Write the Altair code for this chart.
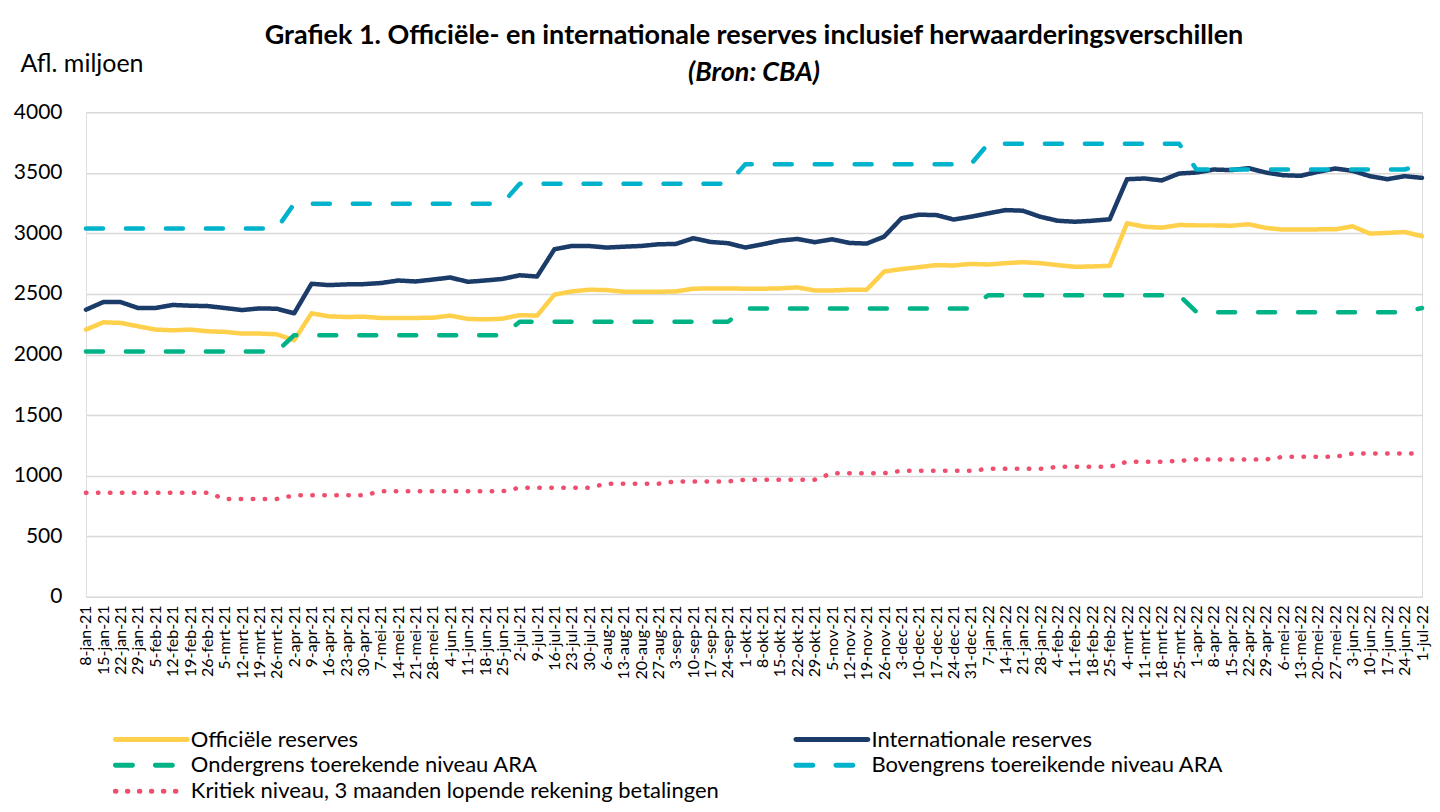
import altair as alt
import pandas as pd

dates = [
    "8-jan-21", "15-jan-21", "22-jan-21", "29-jan-21", "5-feb-21", "12-feb-21", "19-feb-21", "26-feb-21",
    "5-mrt-21", "12-mrt-21", "19-mrt-21", "26-mrt-21", "2-apr-21", "9-apr-21", "16-apr-21", "23-apr-21",
    "30-apr-21", "7-mei-21", "14-mei-21", "21-mei-21", "28-mei-21", "4-jun-21", "11-jun-21", "18-jun-21",
    "25-jun-21", "2-jul-21", "9-jul-21", "16-jul-21", "23-jul-21", "30-jul-21", "6-aug-21", "13-aug-21",
    "20-aug-21", "27-aug-21", "3-sep-21", "10-sep-21", "17-sep-21", "24-sep-21", "1-okt-21", "8-okt-21",
    "15-okt-21", "22-okt-21", "29-okt-21", "5-nov-21", "12-nov-21", "19-nov-21", "26-nov-21", "3-dec-21",
    "10-dec-21", "17-dec-21", "24-dec-21", "31-dec-21", "7-jan-22", "14-jan-22", "21-jan-22", "28-jan-22",
    "4-feb-22", "11-feb-22", "18-feb-22", "25-feb-22", "4-mrt-22", "11-mrt-22", "18-mrt-22", "25-mrt-22",
    "1-apr-22", "8-apr-22", "15-apr-22", "22-apr-22", "29-apr-22", "6-mei-22", "13-mei-22", "20-mei-22",
    "27-mei-22", "3-jun-22", "10-jun-22", "17-jun-22", "24-jun-22", "1-jul-22",
]

officiele = [
    2206, 2266, 2261, 2233, 2206, 2200, 2206, 2192, 2187, 2173, 2173, 2167, 2118, 2340, 2315, 2310,
    2312, 2302, 2302, 2302, 2304, 2321, 2294, 2290, 2296, 2325, 2321, 2494, 2521, 2535, 2532, 2518,
    2518, 2518, 2521, 2543, 2546, 2546, 2543, 2543, 2546, 2554, 2529, 2529, 2535, 2535, 2685, 2705,
    2721, 2738, 2735, 2748, 2743, 2754, 2762, 2754, 2738, 2724, 2727, 2732, 3083, 3055, 3047, 3069,
    3066, 3066, 3063, 3075, 3045, 3031, 3031, 3033, 3033, 3058, 2998, 3004, 3011, 2976,
]

internationale = [
    2370, 2433, 2433, 2384, 2384, 2409, 2403, 2400, 2384, 2367, 2381, 2378, 2340, 2584, 2573, 2579,
    2581, 2590, 2611, 2603, 2619, 2636, 2600, 2611, 2624, 2654, 2644, 2869, 2896, 2896, 2883, 2890,
    2896, 2910, 2913, 2960, 2929, 2919, 2883, 2910, 2940, 2954, 2927, 2951, 2921, 2916, 2973, 3124,
    3154, 3151, 3114, 3137, 3165, 3192, 3187, 3137, 3104, 3096, 3104, 3116, 3447, 3453, 3437, 3494,
    3502, 3527, 3522, 3538, 3502, 3480, 3475, 3508, 3535, 3516, 3472, 3447, 3472, 3458,
]

ondergrens = [
    2025, 2025, 2025, 2025, 2025, 2025, 2025, 2025, 2025, 2025, 2025, 2025, 2160, 2160, 2160, 2160,
    2160, 2160, 2160, 2160, 2160, 2160, 2160, 2160, 2160, 2270, 2270, 2270, 2270, 2270, 2270, 2270,
    2270, 2270, 2270, 2270, 2270, 2270, 2380, 2380, 2380, 2380, 2380, 2380, 2380, 2380, 2380, 2380,
    2380, 2380, 2380, 2380, 2490, 2490, 2490, 2490, 2490, 2490, 2490, 2490, 2490, 2490, 2490, 2490,
    2350, 2350, 2350, 2350, 2350, 2350, 2350, 2350, 2350, 2350, 2350, 2350, 2350, 2384,
]

bovengrens = [
    3040, 3040, 3040, 3040, 3040, 3040, 3040, 3040, 3040, 3040, 3040, 3040, 3245, 3245, 3245, 3245,
    3245, 3245, 3245, 3245, 3245, 3245, 3245, 3245, 3245, 3410, 3410, 3410, 3410, 3410, 3410, 3410,
    3410, 3410, 3410, 3410, 3410, 3410, 3570, 3570, 3570, 3570, 3570, 3570, 3570, 3570, 3570, 3570,
    3570, 3570, 3570, 3570, 3740, 3740, 3740, 3740, 3740, 3740, 3740, 3740, 3740, 3740, 3740, 3740,
    3527, 3527, 3527, 3527, 3527, 3527, 3527, 3527, 3527, 3527, 3527, 3527, 3527, 3571,
]

kritiek = [
    860, 860, 860, 860, 860, 860, 860, 860, 808, 808, 808, 808, 838, 838, 838, 838,
    838, 871, 871, 871, 871, 871, 871, 871, 871, 901, 901, 901, 901, 901, 934, 934,
    934, 934, 953, 953, 953, 953, 967, 967, 967, 967, 967, 1021, 1021, 1021, 1021, 1040,
    1040, 1040, 1040, 1040, 1057, 1057, 1057, 1057, 1073, 1073, 1073, 1073, 1115, 1115, 1115, 1123,
    1134, 1134, 1134, 1134, 1134, 1156, 1156, 1156, 1156, 1183, 1183, 1183, 1183, 1183,
]

series_names = [
    "Officiële reserves",
    "Internationale reserves",
    "Ondergrens toerekende niveau ARA",
    "Bovengrens toereikende niveau ARA",
    "Kritiek niveau, 3 maanden lopende rekening betalingen",
]
series_values = [officiele, internationale, ondergrens, bovengrens, kritiek]
series_colors = ["#FFD04C", "#1B3B68", "#00B386", "#00B2CC", "#EF4F6E"]
series_dashes = [[1, 0], [1, 0], [17, 23], [17, 23], [0.5, 11.5]]

rows = []
for name, vals in zip(series_names, series_values):
    for d, v in zip(dates, vals):
        rows.append({"datum": d, "waarde": v, "reeks": name})
df = pd.DataFrame(rows)

FONT = "Lato"

legend = alt.Legend(
    title=None,
    orient="none",
    direction="horizontal",
    legendX=27,
    legendY=613,
    columns=2,
    columnPadding=66,
    rowPadding=0,
    padding=0,
    symbolType="M-3,0L3,0",
    symbolSize=576,
    symbolOffset=24,
    symbolStrokeWidth=5,
    labelFontSize=22,
    labelFont=FONT,
    labelColor="#000000",
    labelOffset=25,
    labelLimit=800,
)

base = alt.Chart(df).mark_line(
    strokeWidth=4.5, strokeCap="round", strokeJoin="round"
).encode(
    x=alt.X(
        "datum:N",
        sort=dates,
        scale=alt.Scale(padding=0),
        axis=alt.Axis(
            title=None,
            labelAngle=270,
            labelFontSize=16,
            labelFont=FONT,
            labelColor="#000000",
            labelOverlap=False,
            labelPadding=8,
            ticks=False,
            domain=False,
            grid=False,
        ),
    ),
    y=alt.Y(
        "waarde:Q",
        scale=alt.Scale(domain=[0, 4000], nice=False, zero=True),
        axis=alt.Axis(
            values=[0, 500, 1000, 1500, 2000, 2500, 3000, 3500, 4000],
            format="d",
            title="Afl. miljoen",
            titleAngle=0,
            titleAlign="left",
            titleBaseline="middle",
            titleX=-66,
            titleY=-49,
            titleFont=FONT,
            titleFontSize=25,
            titleFontWeight="normal",
            titleColor="#000000",
            labelFont=FONT,
            labelFontSize=21,
            labelColor="#000000",
            labelPadding=24,
            ticks=False,
            domain=False,
            gridColor="#D9D9D9",
            gridWidth=1.5,
        ),
    ),
    color=alt.Color(
        "reeks:N",
        sort=series_names,
        scale=alt.Scale(domain=series_names, range=series_colors),
        legend=legend,
    ),
    strokeDash=alt.StrokeDash(
        "reeks:N",
        sort=series_names,
        scale=alt.Scale(domain=series_names, range=series_dashes),
        legend=legend,
    ),
)

layers = [base.transform_filter(alt.datum.reeks == name) for name in series_names]

chart = (
    alt.layer(*layers)
    .properties(
        width=1337,
        height=485,
        title=alt.TitleParams(
            text="Grafiek 1. Officiële- en internationale reserves inclusief herwaarderingsverschillen",
            subtitle="(Bron: CBA)",
            font=FONT,
            fontSize=27,
            fontWeight="bold",
            color="#000000",
            subtitleFont=FONT,
            subtitleFontSize=27,
            subtitleFontWeight="bold",
            subtitleFontStyle="italic",
            subtitleColor="#000000",
            subtitlePadding=10,
            anchor="middle",
            offset=-36,
        ),
        autosize=alt.AutoSizeParams(type="none"),
        padding={"left": 78, "top": 104, "right": 10, "bottom": 207},
        usermeta={
            "embedOptions": {
                "patch": [
                    {
                        "op": "add",
                        "path": "/legends/0/encode",
                        "value": {
                            "symbols": {
                                "update": {"strokeCap": {"value": "round"}}
                            }
                        },
                    }
                ]
            }
        },
    )
    .configure_view(stroke=None)
    .configure(background="#FFFFFF")
)

chart.save("out.html", embed_options={"renderer": "svg", "actions": False})
